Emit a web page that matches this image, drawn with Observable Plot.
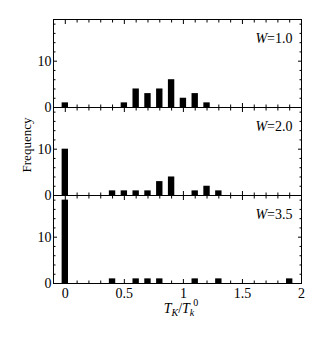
<!DOCTYPE html>
<html><head><meta charset="utf-8">
<script src="https://cdn.jsdelivr.net/npm/d3@7"></script>
<script src="https://cdn.jsdelivr.net/npm/@observablehq/plot@0.6"></script>
<style>
body{margin:0;background:#fff}
svg, svg text{font-family:"Liberation Serif","DejaVu Serif",serif !important}
</style>
</head><body><div id="chart"></div>
<script>
// Panels (disorder strength W)
const panels = ["1.0", "2.0", "3.5"];
// Histogram bins (T_K / T_k^0) and frequencies for each panel
const tk1 = [0, 0.5, 0.6, 0.7, 0.8, 0.9, 1.0, 1.1, 1.2];
const n1  = [1, 1, 4, 3, 4, 6, 2, 3, 1];
const tk2 = [0, 0.4, 0.5, 0.6, 0.7, 0.8, 0.9, 1.1, 1.2, 1.3];
const n2  = [10, 1, 1, 1, 1, 3, 4, 1, 2, 1];
const tk3 = [0, 0.4, 0.6, 0.7, 0.8, 1.1, 1.3, 1.9];
const n3  = [18, 1, 1, 1, 1, 1, 1, 1];
// Tick values
const xMajor = [0, 0.5, 1, 1.5, 2];
const xMinor = [0.1, 0.2, 0.3, 0.4, 0.6, 0.7, 0.8, 0.9, 1.1, 1.2, 1.3, 1.4, 1.6, 1.7, 1.8, 1.9];
const yMajor = [0, 10];
const yMinor = [2, 4, 6, 8, 12, 14, 16, 18];

const rows = [];
[[tk1, n1], [tk2, n2], [tk3, n3]].forEach(([t, n], i) =>
  t.forEach((v, j) => rows.push({w: panels[i], t: v, n: n[j]})));

const half = 0.027;
const ink = "black";
const serif = '"Liberation Serif", "Times New Roman", serif';
const plot = Plot.plot({
  width: 314, height: 339,
  marginLeft: 53, marginRight: 13, marginTop: 18, marginBottom: 56,
  style: {fontFamily: serif, fontSize: "14px", color: ink, background: "white"},
  x: {domain: [-0.1, 2.0], axis: null},
  y: {domain: [0, 19], axis: null},
  fy: {domain: panels, axis: null, padding: 0},
  marks: [
    Plot.rectY(rows, {x1: d => d.t - half, x2: d => d.t + half, y: "n", fy: "w", fill: ink}),
    // inward ticks
    Plot.axisX(xMajor, {anchor: "bottom", tickSize: -4, fill: "none", facetAnchor: null}),
    Plot.axisX(xMinor, {anchor: "bottom", tickSize: -2.5, fill: "none", facetAnchor: null}),
    Plot.axisX(xMajor, {anchor: "top", tickSize: -4, fill: "none", facetAnchor: null}),
    Plot.axisX(xMinor, {anchor: "top", tickSize: -2.5, fill: "none", facetAnchor: null}),
    Plot.axisY(yMajor, {anchor: "left", tickSize: -4, fill: "none", facetAnchor: null}),
    Plot.axisY(yMinor, {anchor: "left", tickSize: -2.5, fill: "none", facetAnchor: null}),
    Plot.axisY(yMajor, {anchor: "right", tickSize: -4, fill: "none", facetAnchor: null}),
    Plot.axisY(yMinor, {anchor: "right", tickSize: -2.5, fill: "none", facetAnchor: null}),
    // labels
    Plot.axisY(yMajor, {anchor: "left", tickSize: 0, tickPadding: 2, stroke: "none", fontSize: 14, fontFamily: serif, fontVariant: "normal", facetAnchor: null, label: null}),
    Plot.axisX(xMajor, {anchor: "bottom", tickSize: 0, tickPadding: 5, stroke: "none", fontSize: 14, fontFamily: serif, fontVariant: "normal", facetAnchor: "bottom", label: null, tickFormat: d => String(d)}),
    Plot.frame({stroke: ink, strokeWidth: 1}),
    Plot.text(panels, {fy: d => d, text: d => "W=" + d, frameAnchor: "top-right", dx: -9, dy: 14, fontSize: 14, fontFamily: serif, textAnchor: "end", className: "wlabel"})
  ]
});
document.getElementById("chart").appendChild(plot);

const svg = d3.select(plot);

// Italic W in panel labels
svg.selectAll(".wlabel text").each(function () {
  const t = d3.select(this);
  const s = t.text();
  t.text(null);
  t.append("tspan").attr("font-style", "italic").text("W");
  t.append("tspan").text(s.slice(1));
});

// y-axis title
svg.append("text")
  .attr("transform", "translate(31,145) rotate(-90)")
  .attr("text-anchor", "middle").attr("font-size", 13).attr("fill", ink)
  .text("Frequency");
// x-axis title: T_K / T_k^0
const xl = svg.append("text")
  .attr("x", 181).attr("y", 313).attr("text-anchor", "middle")
  .attr("font-size", 14).attr("fill", ink);
xl.append("tspan").attr("font-style", "italic").text("T");
xl.append("tspan").attr("font-style", "italic").attr("font-size", 10).attr("dy", 3).text("K");
xl.append("tspan").attr("dy", -3).text("/");
xl.append("tspan").attr("font-style", "italic").text("T");
xl.append("tspan").attr("font-style", "italic").attr("font-size", 10).attr("dy", 3).text("k");
xl.append("tspan").attr("font-size", 10).attr("dy", -10).attr("dx", -1).text("0");

svg.selectAll("text").style("font-family", serif);
</script>
</body></html>
